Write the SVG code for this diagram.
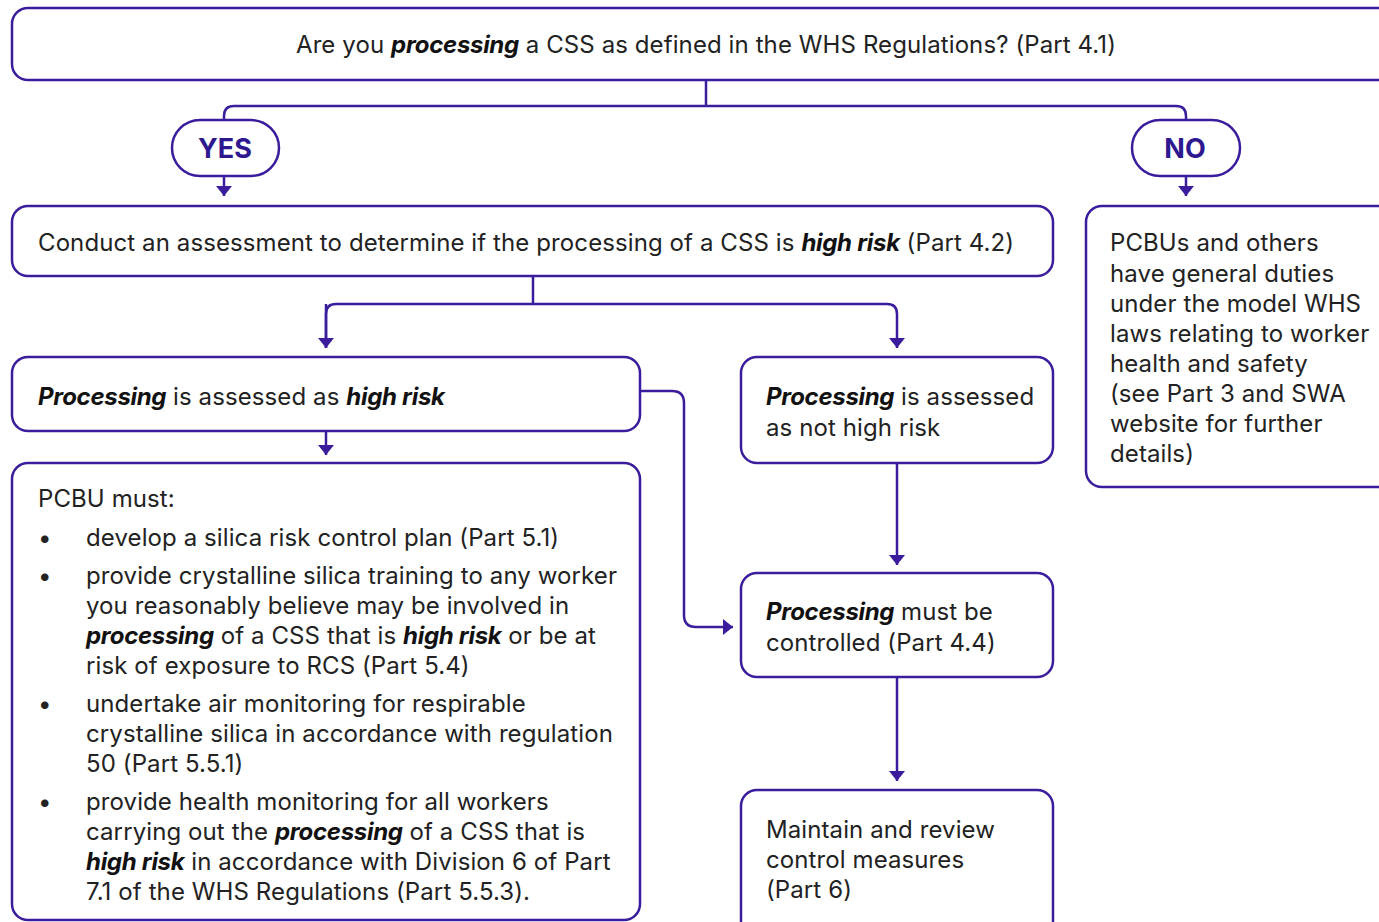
<svg xmlns="http://www.w3.org/2000/svg" width="1379" height="922" viewBox="0 0 1379 922">
<defs>
<marker id="ah" viewBox="0 0 10 16" refX="10" refY="8" markerWidth="10" markerHeight="16" orient="auto" markerUnits="userSpaceOnUse">
<path d="M0,0 L10,8 L0,16 Z" fill="#3a1c9c"/>
</marker>
</defs>
<style>
.box{fill:#fff;stroke:#3a1c9c;stroke-width:2.5}
.ln{fill:none;stroke:#3a1c9c;stroke-width:2.5}
.t{font-family:Inter,"Open Sans",sans-serif;font-size:24px;letter-spacing:0.1px;fill:#222}
.b{font-weight:700;font-style:italic;letter-spacing:-0.3px;fill:#111}
.yn{font-family:Inter,"Open Sans",sans-serif;font-size:27px;font-weight:700;fill:#2e1890}
</style>
<rect width="1379" height="922" fill="#fff"/>
<g id="connectors">
<path class="ln" d="M706,80 V106"/>
<path class="ln" d="M224,120 V116 Q224,106 234,106 H1176 Q1186,106 1186,116 V120"/>
<path class="ln" d="M224,176 V196" marker-end="url(#ah)"/>
<path class="ln" d="M1186,176 V196" marker-end="url(#ah)"/>
<path class="ln" d="M533,276 V304"/>
<path class="ln" d="M326,348 V314 Q326,304 336,304 H887 Q897,304 897,314 V348" marker-end="url(#ah)"/>
<path class="ln" d="M326,304 V348" marker-end="url(#ah)"/>
<path class="ln" d="M326,431 V455" marker-end="url(#ah)"/>
<path class="ln" d="M640,391 H672 Q684,391 684,403 V615 Q684,627 696,627 H733" marker-end="url(#ah)"/>
<path class="ln" d="M897,463 V565" marker-end="url(#ah)"/>
<path class="ln" d="M897,677 V781" marker-end="url(#ah)"/>
</g>
<g id="q1">
<rect class="box" x="12" y="8" width="1400" height="72" rx="16"/>
<text class="t" x="706" y="53" text-anchor="middle">Are you <tspan class="b">processing</tspan> a CSS as defined in the WHS Regulations? (Part 4.1)</text>
</g>
<g id="yes">
<rect class="box" x="172" y="120" width="107" height="56" rx="28"/>
<text class="yn" x="225" y="158" text-anchor="middle">YES</text>
</g>
<g id="no">
<rect class="box" x="1132" y="120" width="108" height="56" rx="28"/>
<text class="yn" x="1185" y="158" text-anchor="middle">NO</text>
</g>
<g id="assess">
<rect class="box" x="12" y="206" width="1041" height="70" rx="16"/>
<text class="t" x="38" y="251">Conduct an assessment to determine if the processing of a CSS is <tspan class="b">high risk</tspan> (Part 4.2)</text>
</g>
<g id="general">
<rect class="box" x="1086" y="206" width="330" height="281" rx="16"/>
<text class="t" x="1110" y="251">PCBUs and others</text>
<text class="t" x="1110" y="282">have general duties</text>
<text class="t" x="1110" y="312">under the model WHS</text>
<text class="t" x="1110" y="342">laws relating to worker</text>
<text class="t" x="1110" y="372">health and safety</text>
<text class="t" x="1110" y="402">(see Part 3 and SWA</text>
<text class="t" x="1110" y="432">website for further</text>
<text class="t" x="1110" y="462">details)</text>
</g>
<g id="highrisk">
<rect class="box" x="12" y="357" width="628" height="74" rx="16"/>
<text class="t" x="38" y="405"><tspan class="b">Processing</tspan> is assessed as <tspan class="b">high risk</tspan></text>
</g>
<g id="pcbu">
<rect class="box" x="12" y="463" width="628" height="457" rx="16"/>
<text class="t" x="38" y="507">PCBU must:</text>
<text class="t" x="38" y="546">•</text>
<text class="t" x="86" y="546">develop a silica risk control plan (Part 5.1)</text>
<text class="t" x="38" y="584">•</text>
<text class="t" x="86" y="584">provide crystalline silica training to any worker</text>
<text class="t" x="86" y="614">you reasonably believe may be involved in</text>
<text class="t" x="86" y="644"><tspan class="b">processing</tspan> of a CSS that is <tspan class="b">high risk</tspan> or be at</text>
<text class="t" x="86" y="674">risk of exposure to RCS (Part 5.4)</text>
<text class="t" x="38" y="712">•</text>
<text class="t" x="86" y="712">undertake air monitoring for respirable</text>
<text class="t" x="86" y="742">crystalline silica in accordance with regulation</text>
<text class="t" x="86" y="772">50 (Part 5.5.1)</text>
<text class="t" x="38" y="810">•</text>
<text class="t" x="86" y="810">provide health monitoring for all workers</text>
<text class="t" x="86" y="840">carrying out the <tspan class="b">processing</tspan> of a CSS that is</text>
<text class="t" x="86" y="870"><tspan class="b">high risk</tspan> in accordance with Division 6 of Part</text>
<text class="t" x="86" y="900">7.1 of the WHS Regulations (Part 5.5.3).</text>
</g>
<g id="nothigh">
<rect class="box" x="741" y="357" width="312" height="106" rx="16"/>
<text class="t" x="766" y="405"><tspan class="b">Processing</tspan> is assessed</text>
<text class="t" x="766" y="436">as not high risk</text>
</g>
<g id="controlled">
<rect class="box" x="741" y="573" width="312" height="104" rx="16"/>
<text class="t" x="766" y="620"><tspan class="b">Processing</tspan> must be</text>
<text class="t" x="766" y="651">controlled (Part 4.4)</text>
</g>
<g id="maintain">
<rect class="box" x="741" y="790" width="312" height="160" rx="16"/>
<text class="t" x="766" y="838">Maintain and review</text>
<text class="t" x="766" y="868">control measures</text>
<text class="t" x="766" y="898">(Part 6)</text>
</g>
</svg>
